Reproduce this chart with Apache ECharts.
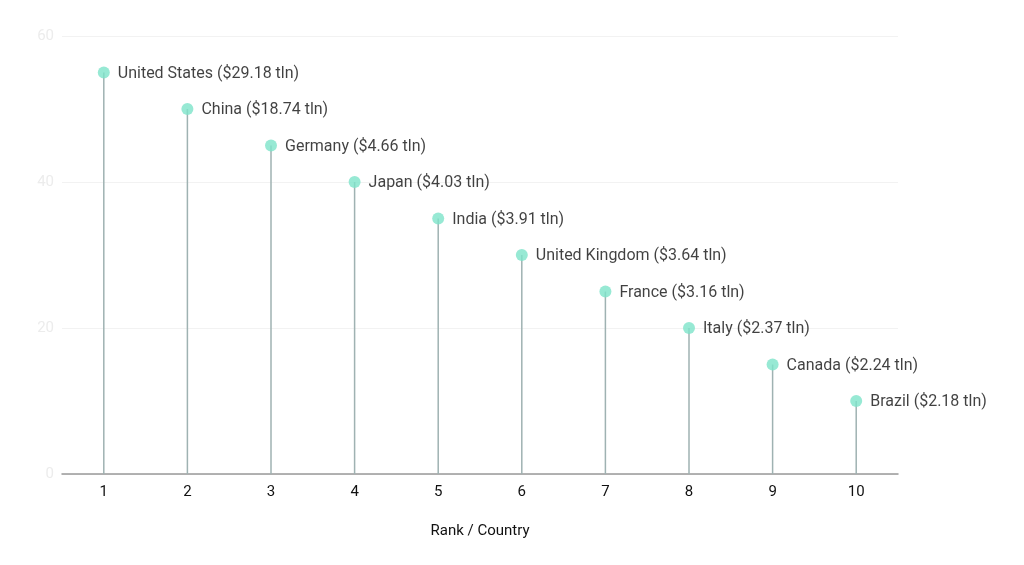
<!DOCTYPE html>
<html>
<head>
<meta charset="utf-8">
<script src="https://cdn.jsdelivr.net/npm/echarts@6/dist/echarts.min.js"></script>
<style>
  html, body { margin: 0; padding: 0; background: #fff; }
  #chart { width: 1024px; height: 565px; }
</style>
</head>
<body>
<div id="chart"></div>
<script>
// rank on x, plotted height on y, label text per point
const ranks = ['1', '2', '3', '4', '5', '6', '7', '8', '9', '10'];
const heights = [55, 50, 45, 40, 35, 30, 25, 20, 15, 10];
const countries = ['United States', 'China', 'Germany', 'Japan', 'India',
  'United Kingdom', 'France', 'Italy', 'Canada', 'Brazil'];
const gdp = ['$29.18 tln', '$18.74 tln', '$4.66 tln', '$4.03 tln', '$3.91 tln',
  '$3.64 tln', '$3.16 tln', '$2.37 tln', '$2.24 tln', '$2.18 tln'];
const yTicks = [0, 20, 40, 60];

const chart = echarts.init(document.getElementById('chart'));

const font = 'Roboto, sans-serif';

chart.setOption({
  animation: false,
  grid: { left: 62, right: 126, top: 36, bottom: 91 },
  xAxis: {
    type: 'category',
    data: ranks,
    name: 'Rank / Country',
    nameLocation: 'middle',
    nameGap: 50,
    nameTextStyle: { color: '#111', fontSize: 15, fontFamily: font },
    axisLine: { lineStyle: { color: '#999', width: 1.5 } },
    axisTick: { show: false },
    axisLabel: { color: '#111', fontSize: 15, fontFamily: font, margin: 11 }
  },
  yAxis: {
    type: 'value',
    min: yTicks[0],
    max: yTicks[yTicks.length - 1],
    interval: 20,
    axisLine: { show: false },
    axisTick: { show: false },
    axisLabel: { color: '#ececec', fontSize: 15, fontFamily: font, margin: 8 },
    splitLine: { lineStyle: { color: '#f2f2f2', width: 1 } }
  },
  series: [
    {
      type: 'bar',
      data: heights,
      barWidth: 1.5,
      itemStyle: { color: '#9fb2b2' },
      silent: true
    },
    {
      type: 'scatter',
      data: heights,
      symbol: 'circle',
      symbolSize: 12,
      itemStyle: { color: '#7de3c9' },
      label: {
        show: true,
        position: 'right',
        distance: 8,
        offset: [0, 1],
        color: '#111',
        fontSize: 16,
        fontFamily: font,
        formatter: p => countries[p.dataIndex] + ' (' + gdp[p.dataIndex] + ')'
      },
      z: 3
    }
  ]
});
</script>
</body>
</html>
